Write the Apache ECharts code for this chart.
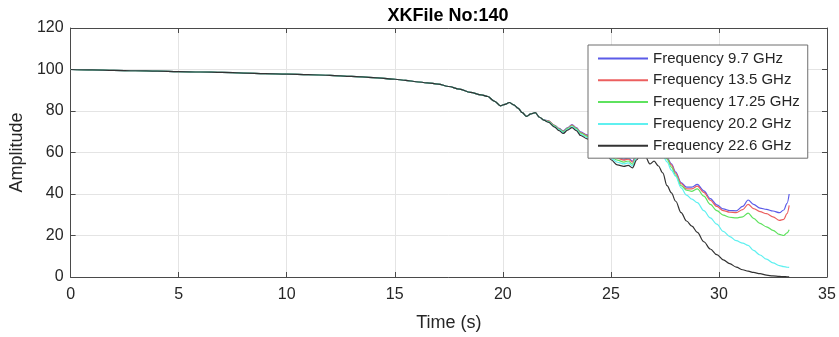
<!DOCTYPE html>
<html>
<head>
<meta charset="utf-8">
<title>XKFile No:140</title>
<script src="https://cdn.jsdelivr.net/npm/echarts@6.0.0/dist/echarts.min.js"></script>
<style>
	html, body { margin: 0; padding: 0; background: #fff; }
	#chart { width: 839px; height: 337px; }
</style>
</head>
<body>
<div id="chart"></div>
<script>
// time axis (s), shared by all five curves
var times = [0, 1, 2, 3, 4, 5, 6, 7, 8, 9, 10, 11, 12, 13, 14, 15, 15.5, 16, 16.5, 17, 17.5, 18, 18.5, 19,
	19.3, 19.6, 19.9, 20.1, 20.3, 20.5, 20.7, 20.9, 21.1, 21.3, 21.5, 21.7, 21.9,
	22.1, 22.4, 22.6, 22.8, 23.0, 23.2, 23.4, 23.6, 23.9,
	24.2, 24.5, 24.8, 25.0, 25.3, 25.6, 25.8, 26.0,
	26.2, 26.4, 26.6, 26.8, 27.0, 27.2, 27.4, 27.6, 27.8, 28.0,
	28.25, 28.5, 28.75, 29.0, 29.3, 29.6, 29.9, 30.2, 30.5, 30.8,
	31.1, 31.35, 31.6, 31.9, 32.2, 32.5, 32.8, 33.0, 33.15, 33.25];

// up to 21.9 s all frequencies lie on top of each other
var common = [100, 99.8, 99.6, 99.4, 99.2, 99.0, 98.8, 98.6, 98.3, 98.0, 97.8, 97.5, 97.2, 96.7, 96.1, 95.3,
	94.8, 94.1, 93.6, 93.0, 91.8, 90.5, 89.0, 87.8,
	87.0, 84.8, 82.5, 83.2, 84.1, 83.0, 81.4, 79.2, 77.4, 78.6, 79.2, 77.0, 75.6];

var amp97 = [75.3, 73.1, 71.6, 70.4, 72.0, 73.4, 72.0, 69.9, 68.5,
	66.8, 64.5, 61.5, 59.0, 57.8, 56.8, 57.3, 55.8,
	60.0, 63.5, 64.5, 63.5, 64.0, 62.5, 60.5, 57.5, 54.5, 50.5,
	45.5, 43.3, 43.3, 44.6, 41.5, 37.8, 34.8, 32.8, 32.0, 31.9,
	34.0, 37.1, 35.0, 33.2, 32.6, 31.8, 31.0, 32.3, 35.5, 40.0];
var amp135 = [75.2, 73.0, 71.4, 70.2, 71.8, 73.2, 71.8, 69.6, 68.2,
	66.5, 64.2, 61.2, 58.6, 57.3, 56.3, 56.8, 55.3,
	59.5, 63.0, 64.0, 63.0, 63.5, 62.0, 60.0, 57.0, 54.0, 50.0,
	45.0, 42.5, 42.5, 43.8, 40.8, 37.0, 34.0, 32.0, 31.2, 31.0,
	32.5, 35.0, 33.0, 31.5, 30.5, 29.0, 27.3, 27.8, 30.5, 34.5];
var amp1725 = [75.0, 72.8, 71.2, 70.0, 71.6, 72.9, 71.5, 69.3, 67.8,
	66.0, 63.6, 60.6, 57.9, 56.3, 55.4, 55.9, 54.4,
	58.6, 62.2, 63.2, 62.2, 62.8, 61.5, 59.5, 56.8, 53.0, 49.0,
	44.0, 41.8, 41.3, 42.5, 39.0, 35.0, 32.0, 29.8, 28.8, 28.5,
	29.0, 30.8, 28.3, 25.8, 24.2, 22.5, 20.5, 20.0, 21.3, 22.8];
var amp202 = [74.8, 72.5, 70.9, 69.6, 71.2, 72.5, 71.0, 68.8, 67.2,
	65.4, 63.0, 60.0, 57.2, 55.3, 54.5, 55.0, 53.6,
	57.8, 61.5, 62.5, 61.5, 62.0, 60.5, 58.5, 55.5, 51.5, 48.5,
	43.0, 39.5, 37.5, 35.8, 32.0, 28.5, 25.5, 22.0, 19.5, 17.5,
	16.3, 15.2, 12.8, 10.6, 8.6, 6.8, 5.5, 5.0, 4.7, 4.6];
var amp226 = [74.6, 72.2, 70.5, 69.2, 70.8, 72.0, 70.5, 68.2, 66.6,
	64.8, 62.3, 59.3, 56.5, 54.0, 53.3, 53.8, 52.6,
	56.5, 60.5, 58.0, 54.5, 55.8, 53.5, 50.2, 44.0, 40.5, 36.5,
	31.0, 27.0, 24.5, 21.5, 17.0, 13.5, 10.8, 8.3, 6.4, 4.8,
	3.5, 2.8, 2.2, 1.6, 0.9, 0.5, 0.3, 0.2, 0.1, 0.1];

var names = ['Frequency 9.7 GHz', 'Frequency 13.5 GHz', 'Frequency 17.25 GHz', 'Frequency 20.2 GHz', 'Frequency 22.6 GHz'];
var colors = ['#5b5be8', '#ec5f5f', '#5ee25e', '#5ff0f0', '#333333'];
var tails = [amp97, amp135, amp1725, amp202, amp226];

var font = '"Liberation Sans", Arial, sans-serif';
var ink = '#262626';

function pairs(vals) { //time/value pairs for one curve
	var full = common.concat(vals);
	var out = [];
	for(var i = 0; i < times.length; i++) {
		out.push([times[i], full[i]]);
	}
	return out;
}

var series = [];
for(var k = 0; k < names.length; k++) {
	series.push({
		name: names[k],
		type: 'line',
		data: pairs(tails[k]),
		showSymbol: false,
		symbol: 'none',
		smooth: 0.35,
		smoothMonotone: 'x',
		lineStyle: { color: colors[k], width: 1.2 },
		itemStyle: { color: colors[k] },
		z: 2 //legend (z 4) sits on top and hides the lines, like the reference
	});
}

var chart = echarts.init(document.getElementById('chart'), null, { renderer: 'canvas' });
var option = {
	animation: false,
	backgroundColor: '#fff',
	textStyle: { fontFamily: font },
	title: {
		text: 'XKFile No:140',
		left: 448,
		textAlign: 'center',
		top: 7,
		padding: 0,
		textStyle: { fontFamily: font, fontSize: 18, fontWeight: 'bold', color: '#000' }
	},
	legend: {
		orient: 'vertical',
		left: 588,
		top: 45,
		padding: [5, 8, 4, 10],
		itemGap: 4.8,
		itemWidth: 50,
		itemHeight: 2,
		icon: 'rect',
		backgroundColor: '#fff',
		borderColor: '#6e6e6e',
		borderWidth: 1,
		z: 10,
		textStyle: { fontFamily: font, fontSize: 15, color: ink, lineHeight: 17 },
		data: names
	},
	grid: { left: 69, right: 12, top: 28, bottom: 59, containLabel: false },
	xAxis: [{
		type: 'value',
		min: 0, max: 35, interval: 5,
		name: 'Time (s)',
		nameLocation: 'middle',
		nameGap: 37,
		nameTextStyle: { fontFamily: font, fontSize: 18, color: ink },
		axisLine: { show: true, lineStyle: { color: '#4a4a4a', width: 1 } },
		axisTick: { show: true, inside: true, length: 5, lineStyle: { color: '#4a4a4a' } },
		axisLabel: { fontFamily: font, fontSize: 16, color: ink, margin: 10 },
		splitLine: { show: true, lineStyle: { color: '#e4e4e4', width: 1 } }
	}, {
		type: 'value',
		position: 'top',
		min: 0, max: 35, interval: 5,
		axisLine: { show: true, onZero: false, lineStyle: { color: '#4a4a4a', width: 1 } },
		axisTick: { show: true, inside: true, length: 5, lineStyle: { color: '#4a4a4a' } },
		axisLabel: { show: false },
		splitLine: { show: false }
	}],
	yAxis: [{
		type: 'value',
		min: 0, max: 120, interval: 20,
		name: 'Amplitude',
		nameLocation: 'middle',
		nameGap: 41,
		nameTextStyle: { fontFamily: font, fontSize: 18, color: ink },
		axisLine: { show: true, lineStyle: { color: '#4a4a4a', width: 1 } },
		axisTick: { show: true, inside: true, length: 5, lineStyle: { color: '#4a4a4a' } },
		axisLabel: { fontFamily: font, fontSize: 16, color: ink, margin: 7 },
		splitLine: { show: true, lineStyle: { color: '#e4e4e4', width: 1 } }
	}, {
		type: 'value',
		position: 'right',
		min: 0, max: 120, interval: 20,
		axisLine: { show: true, onZero: false, lineStyle: { color: '#4a4a4a', width: 1 } },
		axisTick: { show: true, inside: true, length: 5, lineStyle: { color: '#4a4a4a' } },
		axisLabel: { show: false },
		splitLine: { show: false }
	}],
	series: series
};
chart.setOption(option);
</script>
</body>
</html>
